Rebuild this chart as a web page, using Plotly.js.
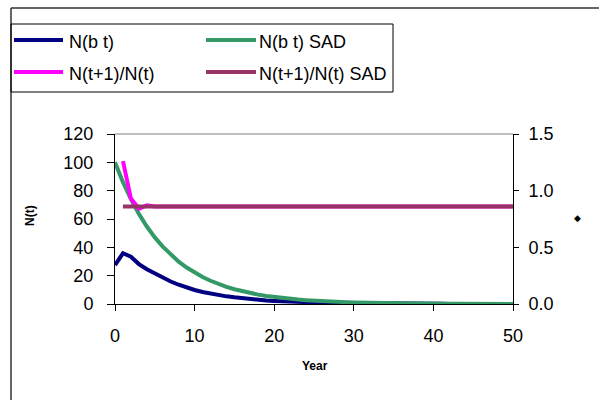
<!DOCTYPE html>
<html>
<head>
<meta charset="utf-8">
<script src="https://cdn.plot.ly/plotly-3.0.1.min.js"></script>
<style>html,body{margin:0;padding:0;background:#fff;}#chart{width:599px;height:400px;}</style>
</head>
<body>
<div id="chart"></div>
<script>
// ---- data ----
var years = [0,1,2,3,4,5,6,7,8,9,10,11,12,13,14,15,16,17,18,19,20,21,22,23,24,25,26,27,28,29,30,31,32,33,34,35,36,37,38,39,40,41,42,43,44,45,46,47,48,49,50];
var nbt = [27.5,35.8,33.4,28.2,24.5,21.4,18.5,15.9,13.6,11.6,9.9,8.5,7.3,6.3,5.4,4.7,4.0,3.4,2.9,2.5,2.2,1.9,1.6,1.4,1.2,1.0,0.9,0.8,0.7,0.6,0.5,0.43,0.37,0.32,0.27,0.23,0.2,0.17,0.15,0.13,0.11,0.1,0.08,0.07,0.06,0.05,0.045,0.04,0.03,0.03,0.02];
var nbtSAD = [100,86,74,63.6,54.7,47,40.5,34.8,29.9,25.7,22.1,19,16.4,14.1,12.1,10.4,8.9,7.7,6.6,5.7,4.9,4.2,3.6,3.1,2.7,2.3,2,1.7,1.5,1.3,1.1,0.9,0.8,0.7,0.6,0.5,0.45,0.4,0.33,0.29,0.25,0.21,0.18,0.16,0.14,0.12,0.1,0.09,0.07,0.06,0.05];
var ratioYears = [1,2,3,4,5,6,7,8,9,10,11,12,13,14,15,16,17,18,19,20,21,22,23,24,25,26,27,28,29,30,31,32,33,34,35,36,37,38,39,40,41,42,43,44,45,46,47,48,49,50];
var ratio = [1.26,0.93,0.84,0.87,0.86,0.86,0.86,0.86,0.86,0.86,0.86,0.86,0.86,0.86,0.86,0.86,0.86,0.86,0.86,0.86,0.86,0.86,0.86,0.86,0.86,0.86,0.86,0.86,0.86,0.86,0.86,0.86,0.86,0.86,0.86,0.86,0.86,0.86,0.86,0.86,0.86,0.86,0.86,0.86,0.86,0.86,0.86,0.86,0.86,0.86];
var ratioSAD = [0.86,0.86,0.86,0.86,0.86,0.86,0.86,0.86,0.86,0.86,0.86,0.86,0.86,0.86,0.86,0.86,0.86,0.86,0.86,0.86,0.86,0.86,0.86,0.86,0.86,0.86,0.86,0.86,0.86,0.86,0.86,0.86,0.86,0.86,0.86,0.86,0.86,0.86,0.86,0.86,0.86,0.86,0.86,0.86,0.86,0.86,0.86,0.86,0.86,0.86];
var seriesNames = ["N(b t)", "N(b t) SAD", "N(t+1)/N(t)", "N(t+1)/N(t) SAD"];
var seriesColors = ["#000080", "#339966", "#FF00FF", "#993366"];
var xTitle = "Year";
var yTitle = "N(t)";
var y2Title = "\u25C6";

// ---- layout helpers (pixel -> paper) ----
var W = 599, H = 400, L = 115, R = 86, T = 134, B = 96;
var pw = W - L - R, ph = H - T - B;
function px(x) { return (x - L) / pw; }
function py(y) { return (H - B - y) / ph; }

var FONT = "Liberation Sans, Arial, sans-serif";
var LW = 4;

var traces = [
  {x: years, y: nbt, name: seriesNames[0], mode: "lines", line: {color: seriesColors[0], width: LW}, yaxis: "y"},
  {x: years, y: nbtSAD, name: seriesNames[1], mode: "lines", line: {color: seriesColors[1], width: LW}, yaxis: "y"},
  {x: ratioYears, y: ratio, name: seriesNames[2], mode: "lines", line: {color: seriesColors[2], width: LW}, yaxis: "y2"},
  {x: ratioYears, y: ratioSAD, name: seriesNames[3], mode: "lines", line: {color: seriesColors[3], width: LW}, yaxis: "y2"}
];

// manual legend
var legRows = [40, 72];
var legCols = [{l0: 14, l1: 63, t: 67}, {l0: 206, l1: 256, t: 257}];
var shapes = [
  {type: "line", xref: "paper", yref: "paper", x0: px(11), x1: px(600), y0: py(8), y1: py(8), line: {color: "#333", width: 1.5}},
  {type: "line", xref: "paper", yref: "paper", x0: px(11), x1: px(11), y0: py(8), y1: py(401), line: {color: "#333", width: 1.5}},
  {type: "line", xref: "paper", yref: "paper", x0: 0, x1: 1, y0: 1, y1: 1, line: {color: "#808080", width: 1}},
  {type: "rect", xref: "paper", yref: "paper", x0: px(11), x1: px(393), y0: py(92), y1: py(24), line: {color: "#000", width: 1}, fillcolor: "rgba(0,0,0,0)"}
];
var annotations = [
  {text: "<b>" + xTitle + "</b>", xref: "paper", yref: "paper", x: px(315), y: py(366), showarrow: false, font: {family: FONT, size: 12, color: "#000"}, xanchor: "center", yanchor: "middle"},
  {text: "<b>" + yTitle + "</b>", xref: "paper", yref: "paper", x: px(30), y: py(216), textangle: -90, showarrow: false, font: {family: FONT, size: 12, color: "#000"}, xanchor: "center", yanchor: "middle"},
  {text: y2Title, xref: "paper", yref: "paper", x: px(577), y: py(218), showarrow: false, font: {family: "DejaVu Sans", size: 9, color: "#000"}, xanchor: "center", yanchor: "middle"}
];
for (var i = 0; i < seriesNames.length; i++) {
  var r = legRows[Math.floor(i / 2)], c = legCols[i % 2];
  shapes.push({type: "line", xref: "paper", yref: "paper", x0: px(c.l0), x1: px(c.l1), y0: py(r), y1: py(r), line: {color: seriesColors[i], width: LW}});
  annotations.push({text: seriesNames[i], xref: "paper", yref: "paper", x: px(c.t), y: py(r + 2), showarrow: false, xanchor: "left", yanchor: "middle", font: {family: FONT, size: 18, color: "#000"}});
}

var axisCommon = {
  showgrid: false, zeroline: false, showline: true, linecolor: "#000", linewidth: 1,
  ticks: "outside", tickcolor: "#000", tickwidth: 1,
  tickfont: {family: FONT, size: 18, color: "#000"}, fixedrange: true
};

var layout = {
  width: W, height: H,
  margin: {l: L, r: R, t: T, b: B, pad: 0},
  paper_bgcolor: "#fff", plot_bgcolor: "#fff",
  showlegend: false,
  xaxis: Object.assign({}, axisCommon, {range: [0, 50], dtick: 10, tick0: 0, ticklen: 6, ticklabelstandoff: 9}),
  yaxis: Object.assign({}, axisCommon, {range: [0, 120], dtick: 20, tick0: 0, ticklen: 7, ticklabelstandoff: 10}),
  yaxis2: Object.assign({}, axisCommon, {range: [0, 1.5], dtick: 0.5, tick0: 0, tickformat: ".1f", ticklen: 5, overlaying: "y", side: "right", ticklabelstandoff: 6}),
  shapes: shapes,
  annotations: annotations
};

Plotly.newPlot("chart", traces, layout, {displayModeBar: false, staticPlot: true});
</script>
</body>
</html>
